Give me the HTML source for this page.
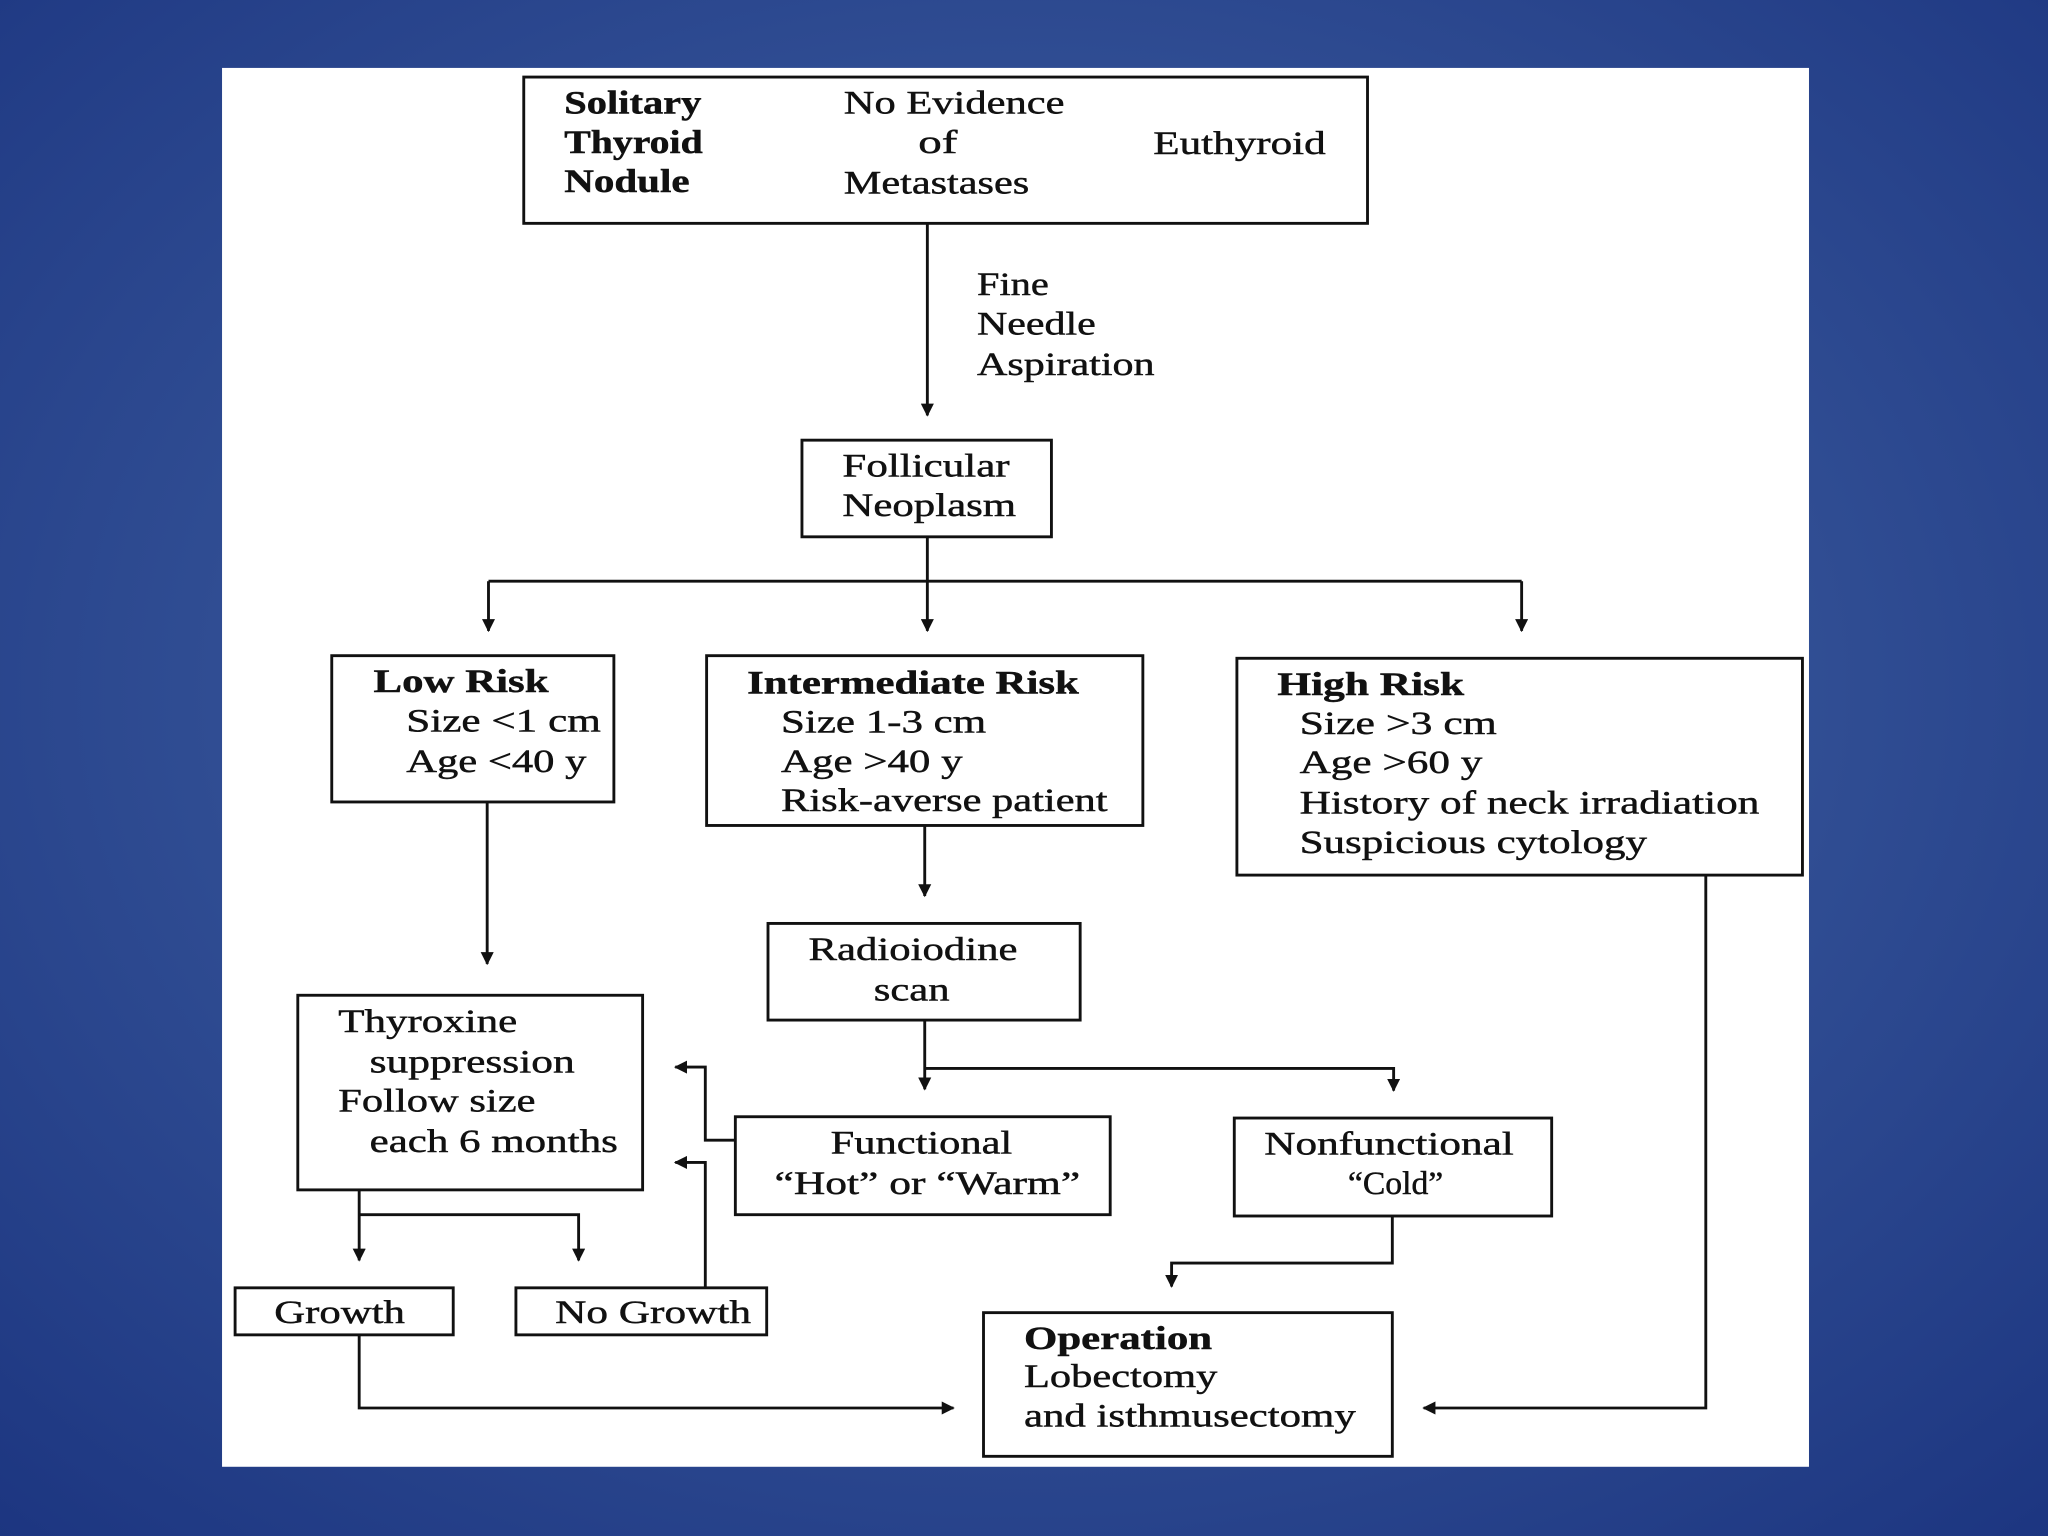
<!DOCTYPE html>
<html><head><meta charset="utf-8"><style>
html,body{margin:0;padding:0;width:2048px;height:1536px;overflow:hidden;background:#2a4588;}
svg{display:block}
text{font-family:"Liberation Serif",serif;font-size:25px;fill:#111;stroke:#111;stroke-width:0.35;}
.b{font-weight:bold}
</style></head><body>
<svg width="2048" height="1536" viewBox="0 0 1568 1176" xmlns="http://www.w3.org/2000/svg">
<defs>
<radialGradient id="bg" cx="50%" cy="45%" r="75%">
<stop offset="0" stop-color="#4668a8"/><stop offset="1" stop-color="#1c3580"/>
</radialGradient>
<marker id="a" markerWidth="10" markerHeight="10" refX="9" refY="5" orient="auto" markerUnits="userSpaceOnUse">
<path d="M0,0 L10,5 L0,10 Z" fill="#111"/></marker>
</defs>
<rect width="1568" height="1176" fill="url(#bg)"/>
<rect x="170" y="52" width="1215" height="1071" fill="#fff"/>
<g fill="none" stroke="#111" stroke-width="2.2">
<rect x="401" y="59" width="646" height="112"/>
<rect x="614" y="337" width="191" height="74"/>
<rect x="254" y="502" width="216" height="112"/>
<rect x="541" y="502" width="334" height="130"/>
<rect x="947" y="504" width="433" height="166"/>
<rect x="588" y="707" width="239" height="74"/>
<rect x="228" y="762" width="264" height="149"/>
<rect x="563" y="855" width="287" height="75"/>
<rect x="945" y="856" width="243" height="75"/>
<rect x="180" y="986" width="167" height="36"/>
<rect x="395" y="986" width="192" height="36"/>
<rect x="753" y="1005" width="313" height="110"/>
<path d="M710 171 V318" marker-end="url(#a)"/>
<path d="M710 411 V445 M374 445 H1165"/>
<path d="M374 445 V483" marker-end="url(#a)"/>
<path d="M710 445 V483" marker-end="url(#a)"/>
<path d="M1165 445 V483" marker-end="url(#a)"/>
<path d="M373 614 V738" marker-end="url(#a)"/>
<path d="M708 632 V686" marker-end="url(#a)"/>
<path d="M708 781 V834" marker-end="url(#a)"/>
<path d="M708 818 H1067 V835" marker-end="url(#a)"/>
<path d="M563 873 H540 V817 H517" marker-end="url(#a)"/>
<path d="M540 985 V890 H517" marker-end="url(#a)"/>
<path d="M275 911 V965" marker-end="url(#a)"/>
<path d="M275 930 H443 V965" marker-end="url(#a)"/>
<path d="M275 1022 V1078 H730" marker-end="url(#a)"/>
<path d="M1066 931 V967 H897 V985" marker-end="url(#a)"/>
<path d="M1306 670 V1078 H1090" marker-end="url(#a)"/>
</g>
<g>
<text class="b" x="432" y="87" textLength="105" lengthAdjust="spacingAndGlyphs">Solitary</text>
<text class="b" x="432" y="117" textLength="106" lengthAdjust="spacingAndGlyphs">Thyroid</text>
<text class="b" x="432" y="147" textLength="96" lengthAdjust="spacingAndGlyphs">Nodule</text>
<text x="646" y="87" textLength="169" lengthAdjust="spacingAndGlyphs">No Evidence</text>
<text x="703" y="117" textLength="30" lengthAdjust="spacingAndGlyphs">of</text>
<text x="646" y="148" textLength="142" lengthAdjust="spacingAndGlyphs">Metastases</text>
<text x="883" y="118" textLength="132" lengthAdjust="spacingAndGlyphs">Euthyroid</text>
<text x="748" y="226" textLength="55" lengthAdjust="spacingAndGlyphs">Fine</text>
<text x="748" y="256" textLength="91" lengthAdjust="spacingAndGlyphs">Needle</text>
<text x="748" y="287" textLength="136" lengthAdjust="spacingAndGlyphs">Aspiration</text>
<text x="645" y="365" textLength="128" lengthAdjust="spacingAndGlyphs">Follicular</text>
<text x="645" y="395" textLength="133" lengthAdjust="spacingAndGlyphs">Neoplasm</text>
<text class="b" x="286" y="530" textLength="134" lengthAdjust="spacingAndGlyphs">Low Risk</text>
<text x="311" y="560" textLength="149" lengthAdjust="spacingAndGlyphs">Size &lt;1 cm</text>
<text x="311" y="591" textLength="138" lengthAdjust="spacingAndGlyphs">Age &lt;40 y</text>
<text class="b" x="572" y="531" textLength="254" lengthAdjust="spacingAndGlyphs">Intermediate Risk</text>
<text x="598" y="561" textLength="157" lengthAdjust="spacingAndGlyphs">Size 1-3 cm</text>
<text x="598" y="591" textLength="139" lengthAdjust="spacingAndGlyphs">Age &gt;40 y</text>
<text x="598" y="621" textLength="250" lengthAdjust="spacingAndGlyphs">Risk-averse patient</text>
<text class="b" x="978" y="532" textLength="143" lengthAdjust="spacingAndGlyphs">High Risk</text>
<text x="995" y="562" textLength="151" lengthAdjust="spacingAndGlyphs">Size &gt;3 cm</text>
<text x="995" y="592" textLength="140" lengthAdjust="spacingAndGlyphs">Age &gt;60 y</text>
<text x="995" y="623" textLength="352" lengthAdjust="spacingAndGlyphs">History of neck irradiation</text>
<text x="995" y="653" textLength="266" lengthAdjust="spacingAndGlyphs">Suspicious cytology</text>
<text x="619" y="735" textLength="160" lengthAdjust="spacingAndGlyphs">Radioiodine</text>
<text x="669" y="766" textLength="58" lengthAdjust="spacingAndGlyphs">scan</text>
<text x="259" y="790" textLength="137" lengthAdjust="spacingAndGlyphs">Thyroxine</text>
<text x="283" y="821" textLength="157" lengthAdjust="spacingAndGlyphs">suppression</text>
<text x="259" y="851" textLength="151" lengthAdjust="spacingAndGlyphs">Follow size</text>
<text x="283" y="882" textLength="190" lengthAdjust="spacingAndGlyphs">each 6 months</text>
<text x="636" y="883" textLength="139" lengthAdjust="spacingAndGlyphs">Functional</text>
<text x="593" y="914" textLength="234" lengthAdjust="spacingAndGlyphs">“Hot” or “Warm”</text>
<text x="968" y="884" textLength="191" lengthAdjust="spacingAndGlyphs">Nonfunctional</text>
<text x="1032" y="914" textLength="73" lengthAdjust="spacingAndGlyphs">“Cold”</text>
<text x="210" y="1013" textLength="100" lengthAdjust="spacingAndGlyphs">Growth</text>
<text x="425" y="1013" textLength="150" lengthAdjust="spacingAndGlyphs">No Growth</text>
<text class="b" x="784" y="1033" textLength="144" lengthAdjust="spacingAndGlyphs">Operation</text>
<text x="784" y="1062" textLength="148" lengthAdjust="spacingAndGlyphs">Lobectomy</text>
<text x="784" y="1092" textLength="254" lengthAdjust="spacingAndGlyphs">and isthmusectomy</text>
</g>
</svg>
</body></html>
